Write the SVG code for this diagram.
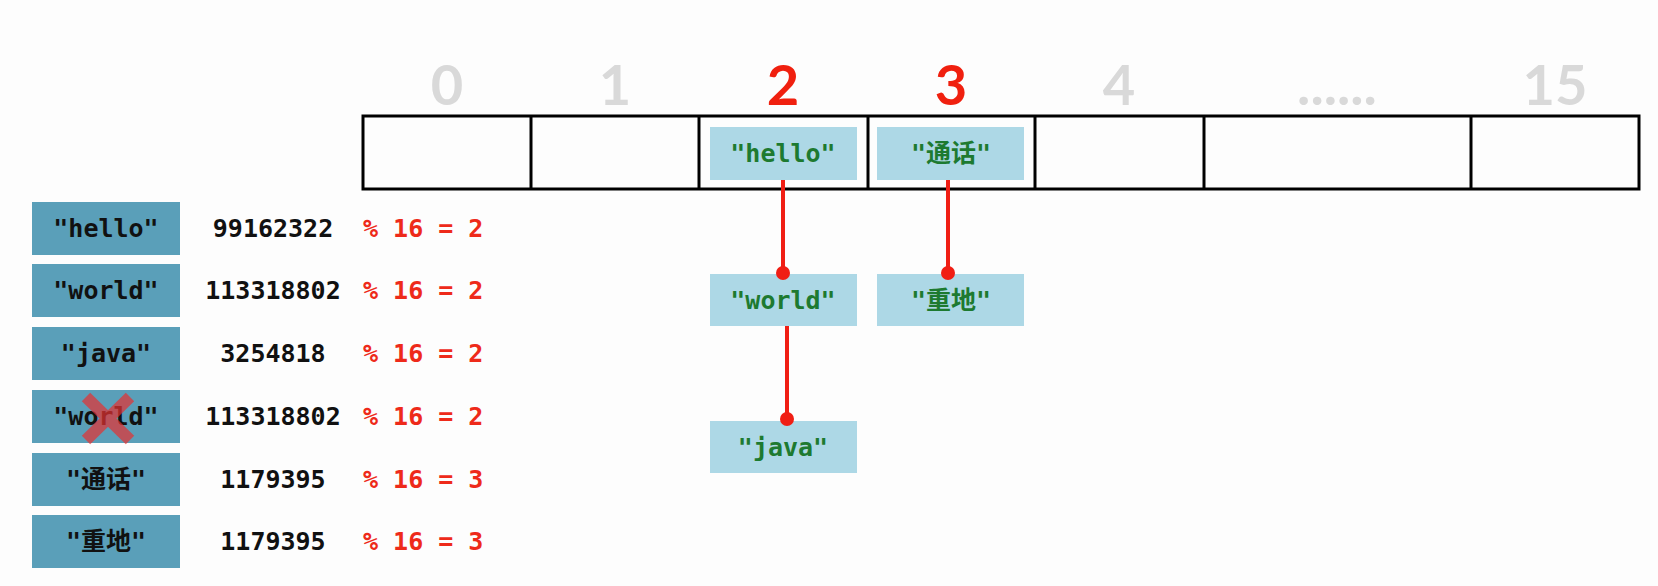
<svg xmlns="http://www.w3.org/2000/svg" width="1658" height="586" viewBox="0 0 1658 586">
<style>
.idx{font-family:Lato,"Open Sans",sans-serif;font-weight:bold;font-size:56px;text-anchor:middle;fill:#d9d9d9}
.idxr{fill:#f0200f}
.cell{fill:none;stroke:#000;stroke-width:3}
.bk{fill:#add8e6}
.bt{font-family:"DejaVu Sans Mono","Noto Sans CJK SC",monospace;font-weight:bold;font-size:25px;text-anchor:middle;fill:#1d7a30}
.lk{fill:#5a9fb9}
.lt{font-family:"DejaVu Sans Mono","Noto Sans CJK SC",monospace;font-weight:bold;font-size:25px;text-anchor:middle;fill:#111}
.num{font-family:"DejaVu Sans Mono",monospace;font-weight:bold;font-size:25px;text-anchor:middle;fill:#111}
.mod{font-family:"DejaVu Sans Mono",monospace;font-weight:bold;font-size:25px;fill:#ee2a1a}
.ln{stroke:#f01e14;stroke-width:4}
.dot{fill:#f01e14}
</style>
<rect width="1658" height="586" fill="#fdfdfd"/>
<g id="indices">
<text class="idx" x="447" y="105">0</text>
<text class="idx" x="615" y="105">1</text>
<text class="idx idxr" x="783" y="105">2</text>
<text class="idx idxr" x="951" y="105">3</text>
<text class="idx" x="1119" y="105">4</text>
<text class="idx" x="1337" y="105">......</text>
<text class="idx" x="1555" y="105">15</text>
</g>
<g id="table">
<rect class="cell" x="363" y="116" width="1276" height="73"/>
<line class="cell" x1="531" y1="116" x2="531" y2="189"/>
<line class="cell" x1="699" y1="116" x2="699" y2="189"/>
<line class="cell" x1="868" y1="116" x2="868" y2="189"/>
<line class="cell" x1="1035" y1="116" x2="1035" y2="189"/>
<line class="cell" x1="1204" y1="116" x2="1204" y2="189"/>
<line class="cell" x1="1471" y1="116" x2="1471" y2="189"/>
</g>
<g id="node-hello">
<rect class="bk" x="710" y="127" width="147" height="53"/>
<text class="bt" x="783" y="162">"hello"</text>
</g>
<g id="node-tonghua">
<rect class="bk" x="877" y="127" width="147" height="53"/>
<text class="bt" x="951" y="162">"通话"</text>
</g>
<g id="node-world">
<rect class="bk" x="710" y="274" width="147" height="52"/>
<text class="bt" x="783" y="309">"world"</text>
</g>
<g id="node-zhongdi">
<rect class="bk" x="877" y="274" width="147" height="52"/>
<text class="bt" x="951" y="309">"重地"</text>
</g>
<g id="node-java">
<rect class="bk" x="710" y="421" width="147" height="52"/>
<text class="bt" x="783" y="456">"java"</text>
</g>
<g id="connectors">
<line class="ln" x1="783" y1="180" x2="783" y2="273"/>
<circle class="dot" cx="783" cy="273" r="7"/>
<line class="ln" x1="787" y1="326" x2="787" y2="419"/>
<circle class="dot" cx="787" cy="419" r="7"/>
<line class="ln" x1="948" y1="180" x2="948" y2="273"/>
<circle class="dot" cx="948" cy="273" r="7"/>
</g>
<g id="row-hello">
<rect class="lk" x="32" y="202" width="148" height="53"/>
<text class="lt" x="106" y="237">"hello"</text>
<text class="num" x="273" y="237">99162322</text>
<text class="mod" x="363" y="237">% 16 = 2</text>
</g>
<g id="row-world">
<rect class="lk" x="32" y="264" width="148" height="53"/>
<text class="lt" x="106" y="299">"world"</text>
<text class="num" x="273" y="299">113318802</text>
<text class="mod" x="363" y="299">% 16 = 2</text>
</g>
<g id="row-java">
<rect class="lk" x="32" y="327" width="148" height="53"/>
<text class="lt" x="106" y="362">"java"</text>
<text class="num" x="273" y="362">3254818</text>
<text class="mod" x="363" y="362">% 16 = 2</text>
</g>
<g id="row-world2">
<rect class="lk" x="32" y="390" width="148" height="53"/>
<text class="lt" x="106" y="425">"world"</text>
<path d="M86,397 L130,440 M130,397 L86,440" stroke="#e53030" stroke-opacity="0.7" stroke-width="12" fill="none"/>
<text class="num" x="273" y="425">113318802</text>
<text class="mod" x="363" y="425">% 16 = 2</text>
</g>
<g id="row-tonghua">
<rect class="lk" x="32" y="453" width="148" height="53"/>
<text class="lt" x="106" y="488">"通话"</text>
<text class="num" x="273" y="488">1179395</text>
<text class="mod" x="363" y="488">% 16 = 3</text>
</g>
<g id="row-zhongdi">
<rect class="lk" x="32" y="515" width="148" height="53"/>
<text class="lt" x="106" y="550">"重地"</text>
<text class="num" x="273" y="550">1179395</text>
<text class="mod" x="363" y="550">% 16 = 3</text>
</g>
</svg>
